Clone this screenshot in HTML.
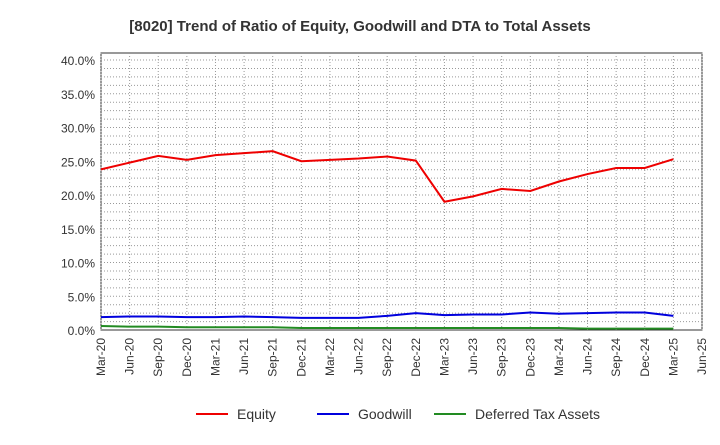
<!DOCTYPE html>
<html><head><meta charset="utf-8"><style>
body{margin:0;background:#fff;font-family:"Liberation Sans",sans-serif}
</style></head><body>
<svg id="chart" width="720" height="440" xmlns="http://www.w3.org/2000/svg">
<text x="360" y="31" text-anchor="middle" font-size="15" font-weight="bold" fill="#333">[8020]  Trend of Ratio of Equity, Goodwill and DTA to Total Assets</text>
<g id="grid"></g><g id="axes"></g><g id="series"></g>
<g font-size="14" fill="#333">
<line x1="196" y1="414" x2="228" y2="414" stroke="#e00" stroke-width="2"/><text x="237" y="419">Equity</text>
<line x1="317" y1="414" x2="349" y2="414" stroke="#00d" stroke-width="2"/><text x="358" y="419">Goodwill</text>
<line x1="434" y1="414" x2="466" y2="414" stroke="#228b22" stroke-width="2"/><text x="475" y="419">Deferred Tax Assets</text>
</g>
</svg>
<script>
const categories=["Mar-20","Jun-20","Sep-20","Dec-20","Mar-21","Jun-21","Sep-21","Dec-21","Mar-22","Jun-22","Sep-22","Dec-22","Mar-23","Jun-23","Sep-23","Dec-23","Mar-24","Jun-24","Sep-24","Dec-24","Mar-25","Jun-25"];
const equity=[23.8,24.8,25.8,25.2,25.9,26.2,26.5,25.0,25.2,25.4,25.7,25.1,19.0,19.8,20.9,20.6,22.0,23.1,24.0,24.0,25.3];
const goodwill=[1.9,2.0,2.0,1.9,1.9,2.0,1.9,1.8,1.8,1.8,2.1,2.5,2.2,2.3,2.3,2.6,2.4,2.5,2.6,2.6,2.1];
const dta=[0.6,0.5,0.5,0.4,0.4,0.4,0.4,0.3,0.3,0.3,0.3,0.3,0.3,0.3,0.3,0.3,0.3,0.2,0.2,0.2,0.2];
const yTicks=[0,5,10,15,20,25,30,35,40];
const NS="http://www.w3.org/2000/svg";
const L=101,R=702,T=53,B=330;
const x=i=>L+(R-L)*i/(categories.length-1);
const y=v=>B-v*6.75;
function mk(t,a,p){const e=document.createElementNS(NS,t);for(const k in a)e.setAttribute(k,a[k]);p.appendChild(e);return e;}
const grid=document.getElementById('grid'),axes=document.getElementById('axes'),ser=document.getElementById('series');
mk('rect',{x:L,y:T,width:R-L,height:B-T,fill:'none',stroke:'#333'},grid);
for(let i=0;i<categories.length;i++){
 const gl=mk('line',{x1:x(i),x2:x(i),y1:T,y2:B,stroke:'#999','stroke-dasharray':'1,2'},grid);
 
 const t=mk('text',{x:0,y:0,'font-size':12,fill:'#333','text-anchor':'end',transform:`translate(${x(i)+4},${B+8}) rotate(-90)`},axes);
 t.textContent=categories[i];
}
for(let v=0;v<=41;v+=1.25){if(v===0)continue;const yl=mk('line',{x1:L,x2:R,y1:y(v),y2:y(v),stroke:'#999','stroke-dasharray':'1,2'},grid);
 }
yTicks.forEach(v=>{
 const t=mk('text',{x:L-6,y:y(v)+5,'font-size':12,fill:'#333','text-anchor':'end'},axes);
 t.textContent=v.toFixed(1)+'%';
});
[[equity,'#e00','equity-line'],[goodwill,'#00d','goodwill-line'],[dta,'#228b22','dta-line']].forEach(([d,c,n])=>{
 const p=mk('polyline',{points:d.map((v,i)=>x(i)+','+y(v)).join(' '),fill:'none',stroke:c,'stroke-width':2},ser);
 
});
</script>
</body></html>
